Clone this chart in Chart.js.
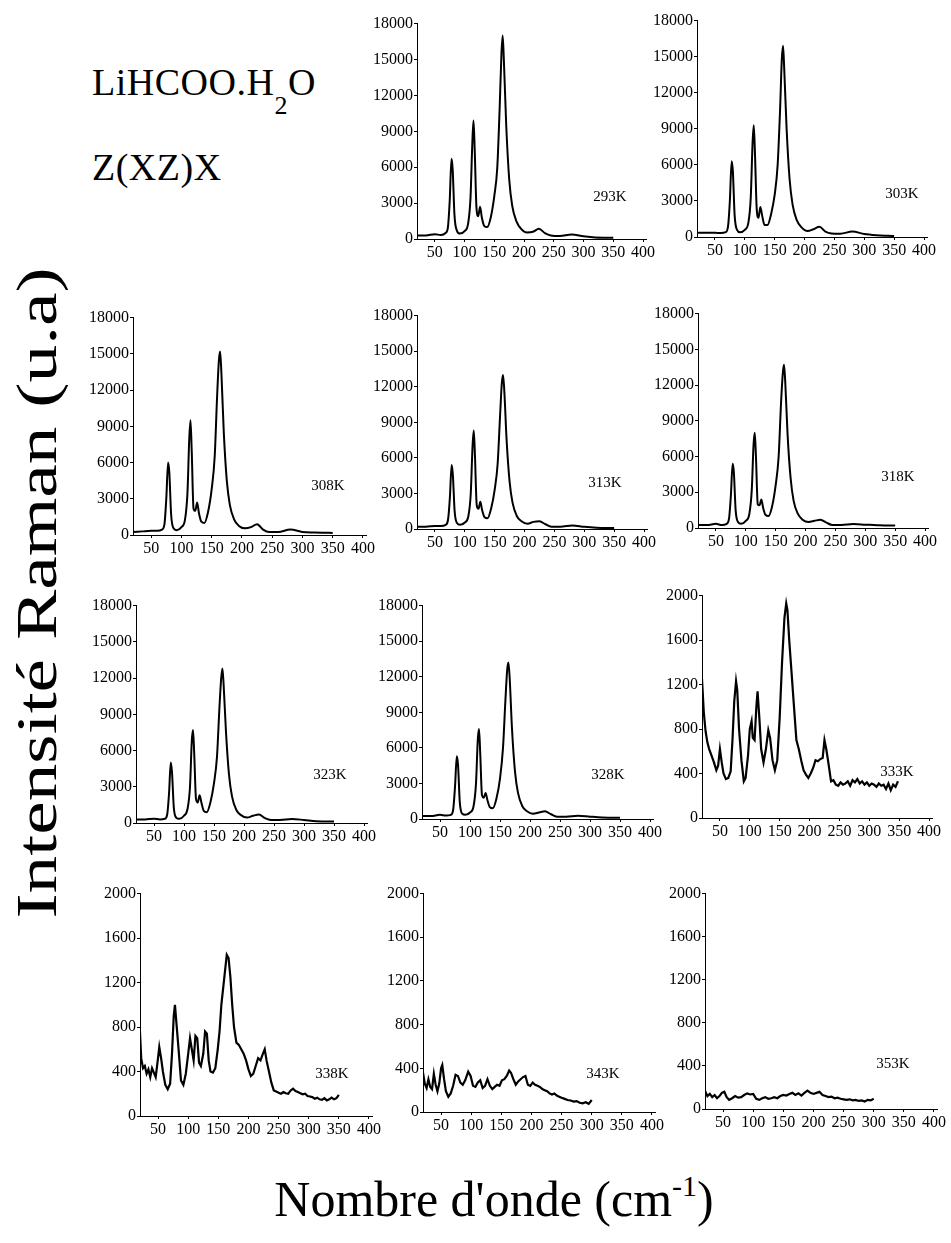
<!DOCTYPE html>
<html>
<head>
<meta charset="utf-8">
<title>LiHCOO.H2O Raman</title>
<script src="https://cdn.jsdelivr.net/npm/chart.js@4.4.1/dist/chart.umd.min.js"></script>
<style>
  body { margin: 0; background: #fff; }
  #page {
    position: relative; width: 951px; height: 1243px; overflow: hidden;
    font-family: "Liberation Serif", "DejaVu Serif", serif; color: #000;
  }
  .panel { position: absolute; }
  .temp { position: absolute; font-size: 15px; transform: translate(-50%, -50%); white-space: nowrap; }
  .big { position: absolute; font-size: 38px; white-space: nowrap; letter-spacing: 0.5px; line-height: 1; }
  .big sub { font-size: 26px; position: relative; top: 19px; vertical-align: baseline; }
  #ytitle {
    position: absolute; left: 37px; top: 593px; font-size: 58px; white-space: nowrap; line-height: 1;
    transform: translate(-50%, -50%) rotate(-90deg) scaleX(1.3);
  }
  #xtitle { position: absolute; left: 494px; top: 1174px; font-size: 50px; white-space: nowrap; line-height: 1; transform: translateX(-50%); }
  #xtitle sup { font-size: 30px; position: relative; top: -20px; vertical-align: baseline; }
</style>
</head>
<body>
<div id="page">
  <div class="big" style="left:92px; top:63px;">LiHCOO.H<sub>2</sub>O</div>
  <div class="big" style="left:92px; top:148px;">Z(XZ)X</div>
  <div id="ytitle">Intensité Raman (u.a)</div>
  <div id="xtitle">Nombre d'onde (cm<sup>-1</sup>)</div>
</div>
<script>
// tick labels
const xTicks = [50, 100, 150, 200, 250, 300, 350, 400];
const yTicksHigh = [0, 3000, 6000, 9000, 12000, 15000, 18000];
const yTicksLow = [0, 400, 800, 1200, 1600, 2000];

// shared wavenumber grid for the crystalline spectra (293K - 328K)
const wavenumbers = [20, 35, 50, 60, 68, 72, 75, 78, 80, 83, 87, 92, 100, 106, 110, 113, 115, 117, 120, 123,
  126, 129, 133, 138, 144, 150, 155, 159, 162, 164, 166, 170, 175, 180, 187, 195, 205, 215, 225, 235,
  245, 260, 280, 300, 320, 340, 350];

const i293 = [300, 300, 400, 330, 500, 1000, 3200, 6700, 5800, 2000, 700, 450, 650, 1300, 3500, 8000, 9900, 7500, 2600, 1900,
  2700, 1800, 1100, 1000, 1800, 3600, 6000, 11000, 15500, 17000, 15000, 9500, 5000, 2800, 1500, 850, 550, 600, 850, 500,
  300, 250, 380, 230, 130, 110, 100];
const i303 = [350, 350, 350, 330, 400, 900, 3000, 6300, 5500, 1800, 600, 400, 600, 1200, 3300, 7800, 9300, 7000, 2300, 1600,
  2500, 1800, 1000, 1000, 1900, 3500, 6000, 10500, 14800, 15900, 14000, 9000, 4800, 2700, 1400, 800, 500, 650, 850, 450,
  300, 280, 450, 250, 150, 100, 80];
const i308 = [250, 300, 350, 350, 450, 900, 3000, 6000, 5200, 1700, 550, 400, 650, 1300, 3500, 8000, 9500, 7000, 2200, 2000,
  2700, 1800, 1100, 1000, 1900, 3800, 6500, 11500, 14500, 15200, 13500, 8500, 4500, 2500, 1300, 750, 550, 650, 900, 450,
  250, 250, 450, 250, 200, 180, 170];
const i313 = [200, 200, 250, 250, 350, 800, 2600, 5400, 4600, 1500, 500, 350, 550, 1100, 3000, 7000, 8300, 6200, 2000, 1700,
  2300, 1600, 1000, 900, 1700, 3300, 5500, 9500, 12300, 13000, 11800, 7500, 4000, 2200, 1100, 650, 450, 600, 650, 400,
  200, 200, 300, 180, 100, 80, 80];
const i318 = [250, 250, 350, 250, 350, 800, 2700, 5400, 4700, 1500, 500, 350, 600, 1200, 3200, 7000, 8000, 6000, 2000, 1900,
  2400, 1700, 1100, 1000, 1800, 3600, 6000, 10500, 13000, 13700, 12300, 7800, 4200, 2300, 1200, 700, 500, 600, 700, 450,
  250, 250, 330, 280, 230, 200, 200];
const i323 = [300, 300, 350, 300, 350, 700, 2400, 5000, 4200, 1300, 450, 350, 600, 1200, 3000, 6800, 7700, 5800, 2000, 1700,
  2300, 1700, 1000, 900, 1700, 3300, 5500, 9500, 12000, 12800, 11500, 7500, 4000, 2200, 1100, 650, 450, 600, 700, 400,
  250, 250, 330, 250, 150, 120, 120];
const i328 = [250, 250, 350, 300, 350, 800, 2700, 5300, 4600, 1400, 450, 350, 550, 1100, 3000, 6700, 7600, 5600, 2000, 1800,
  2200, 1600, 1000, 900, 1700, 3400, 6000, 10000, 12600, 13200, 12000, 7600, 4000, 2200, 1100, 650, 450, 550, 650, 400,
  200, 200, 280, 200, 130, 100, 100];

// noisier high-temperature spectra, each on its own grid
const wn333 = [20, 23, 26, 29, 32, 36, 40, 44, 47, 50, 53, 56, 60, 64, 68, 71, 74, 77, 79, 82,
  86, 90, 93, 97, 100, 103, 105, 108, 111, 113, 116, 119, 123, 127, 131, 134, 138, 142, 146, 150,
  154, 158, 161, 163, 166, 170, 174, 178, 182, 186, 190, 194, 198, 202, 206, 210, 214, 218, 222, 225,
  228, 232, 236, 240, 244, 248, 252, 256, 260, 264, 268, 272, 276, 280, 284, 288, 292, 296, 300, 304,
  308, 312, 316, 320, 324, 328, 332, 336, 340, 344, 348];
const i333 = [1250, 950, 780, 680, 620, 560, 500, 430, 470, 620, 500, 400, 350, 360, 420, 700, 1050, 1230, 1150, 800,
  520, 330, 360, 560, 800, 870, 720, 700, 1000, 1140, 900, 620, 500, 620, 790, 720, 520, 430, 520, 900,
  1400, 1800, 1930, 1870, 1600, 1300, 1000, 700, 620, 520, 430, 390, 360, 400, 450, 520, 510, 530, 540, 700,
  620, 480, 330, 340, 300, 290, 320, 300, 310, 330, 290, 340, 320, 350, 310, 330, 300, 320, 290, 310,
  300, 280, 310, 290, 300, 260, 310, 250, 300, 280, 330];

const wn338 = [20, 22, 25, 28, 31, 34, 37, 40, 43, 46, 49, 52, 55, 58, 62, 66, 70, 73, 76, 78,
  81, 84, 88, 92, 96, 100, 103, 106, 109, 112, 115, 118, 121, 125, 128, 131, 134, 137, 141, 145,
  149, 152, 155, 158, 161, 164, 167, 170, 173, 176, 180, 184, 188, 192, 196, 200, 204, 208, 212, 216,
  220, 224, 227, 230, 234, 238, 242, 246, 250, 254, 258, 262, 266, 270, 274, 278, 282, 286, 290, 294,
  298, 302, 306, 310, 314, 318, 322, 326, 330, 334, 338, 342, 346, 350];
const i338 = [750, 520, 430, 450, 380, 420, 350, 430, 390, 350, 480, 620, 520, 400, 280, 240, 290, 550, 900, 1000,
  800, 600, 320, 280, 380, 560, 700, 600, 500, 720, 700, 480, 450, 560, 760, 740, 500, 400, 390, 430,
  600, 760, 1000, 1150, 1300, 1450, 1420, 1250, 1000, 800, 660, 640, 600, 560, 500, 420, 360, 380, 450, 520,
  500, 560, 600, 500, 400, 300, 230, 220, 210, 200, 215, 205, 200, 230, 245, 225, 215, 205, 195, 200,
  180, 175, 170, 155, 165, 150, 145, 160, 140, 150, 165, 150, 160, 190];

const wn343 = [20, 23, 26, 29, 32, 35, 38, 41, 44, 47, 50, 52, 55, 58, 62, 66, 70, 74, 78, 82,
  86, 90, 95, 99, 103, 107, 111, 115, 119, 123, 127, 131, 135, 139, 143, 147, 151, 155, 159, 163,
  166, 170, 174, 178, 182, 186, 190, 194, 198, 202, 206, 210, 214, 218, 222, 226, 230, 234, 238, 242,
  246, 250, 255, 260, 265, 270, 275, 280, 285, 290, 295, 300];
const i343 = [360, 260, 220, 300, 230, 210, 350, 250, 190, 260, 400, 430, 300, 190, 140, 170, 240, 340, 330, 270,
  250, 290, 370, 330, 240, 230, 270, 290, 220, 240, 300, 240, 210, 230, 250, 240, 290, 300, 330, 380,
  360, 300, 250, 280, 300, 320, 330, 250, 240, 270, 250, 240, 230, 210, 200, 190, 170, 160, 170, 150,
  140, 130, 120, 110, 105, 95, 100, 85, 80, 90, 75, 110];

const wn353 = [20, 24, 28, 32, 36, 40, 44, 48, 52, 56, 60, 65, 70, 75, 80, 85, 90, 95, 100, 105,
  110, 115, 120, 125, 130, 135, 140, 145, 150, 155, 160, 165, 170, 175, 180, 185, 190, 195, 200, 205,
  210, 215, 220, 225, 230, 235, 240, 245, 250, 255, 260, 265, 270, 275, 280, 285, 290, 295, 300];
const i353 = [170, 120, 140, 110, 130, 100, 120, 150, 160, 110, 85, 100, 120, 105, 110, 130, 145, 135, 140, 95,
  85, 100, 110, 95, 100, 110, 100, 120, 130, 125, 140, 150, 130, 145, 125, 150, 170, 150, 140, 150,
  160, 130, 120, 110, 115, 100, 105, 95, 90, 85, 90, 80, 85, 75, 80, 70, 85, 80, 95];

// plot-area boxes on the page: [left, top, right, bottom], and label centres
const panels = [
  { label: '293K', xs: wavenumbers, ys: i293, yTicks: yTicksHigh, box: [417, 23, 646, 239], tag: [610, 196], smooth: true },
  { label: '303K', xs: wavenumbers, ys: i303, yTicks: yTicksHigh, box: [697, 20, 927, 237], tag: [902, 193], smooth: true },
  { label: '308K', xs: wavenumbers, ys: i308, yTicks: yTicksHigh, box: [133, 317, 366, 535], tag: [328, 485], smooth: true },
  { label: '313K', xs: wavenumbers, ys: i313, yTicks: yTicksHigh, box: [417, 315, 647, 529], tag: [605, 482], smooth: true },
  { label: '318K', xs: wavenumbers, ys: i318, yTicks: yTicksHigh, box: [698, 313, 928, 528], tag: [898, 476], smooth: true },
  { label: '323K', xs: wavenumbers, ys: i323, yTicks: yTicksHigh, box: [136, 605, 367, 823], tag: [330, 774], smooth: true },
  { label: '328K', xs: wavenumbers, ys: i328, yTicks: yTicksHigh, box: [422, 605, 653, 819], tag: [608, 774], smooth: true },
  { label: '333K', xs: wn333, ys: i333, yTicks: yTicksLow, box: [702, 595, 932, 818], tag: [897, 771], smooth: false },
  { label: '338K', xs: wn338, ys: i338, yTicks: yTicksLow, box: [140, 893, 372, 1116], tag: [332, 1073], smooth: false },
  { label: '343K', xs: wn343, ys: i343, yTicks: yTicksLow, box: [423, 893, 655, 1112], tag: [603, 1073], smooth: false },
  { label: '353K', xs: wn353, ys: i353, yTicks: yTicksLow, box: [705, 893, 937, 1109], tag: [893, 1063], smooth: false }
];

const AXIS_W = 62;   // room for y tick labels
const AXIS_H = 28;   // room for x tick labels
const PAD_T = 10;
const PAD_R = 14;
const yFont = { family: '"Liberation Serif", serif', size: 16 };
const xFont = { family: '"Liberation Serif", serif', size: 16 };

const page = document.getElementById('page');

function buildPanel(p) {
  const [L, T, R, B] = p.box;
  const w = R - L + AXIS_W + PAD_R;
  const h = B - T + PAD_T + AXIS_H;

  const wrap = document.createElement('div');
  wrap.className = 'panel';
  wrap.style.left = (L - AXIS_W) + 'px';
  wrap.style.top = (T - PAD_T) + 'px';
  wrap.style.width = w + 'px';
  wrap.style.height = h + 'px';
  const canvas = document.createElement('canvas');
  canvas.width = w;
  canvas.height = h;
  canvas.style.width = w + 'px';
  canvas.style.height = h + 'px';
  wrap.appendChild(canvas);
  page.appendChild(wrap);

  const tag = document.createElement('div');
  tag.className = 'temp';
  tag.style.left = p.tag[0] + 'px';
  tag.style.top = p.tag[1] + 'px';
  tag.textContent = p.label;
  page.appendChild(tag);

  const yMax = p.yTicks[p.yTicks.length - 1];

  new Chart(canvas, {
    type: 'line',
    data: {
      datasets: [{
        data: p.xs.map((x, i) => ({ x: x, y: p.ys[i] })),
        borderColor: '#000',
        borderWidth: p.smooth ? 2 : 2.2,
        pointRadius: 0,
        fill: false,
        tension: 0,
        cubicInterpolationMode: p.smooth ? 'monotone' : 'default'
      }]
    },
    options: {
      responsive: false,
      animation: false,
      events: [],
      layout: { padding: { left: 0, right: PAD_R, top: PAD_T, bottom: 0 } },
      plugins: { legend: { display: false }, tooltip: { enabled: false } },
      scales: {
        x: {
          type: 'linear',
          min: 20,
          max: 405,
          afterFit: (s) => { s.height = AXIS_H; },
          afterBuildTicks: (s) => { s.ticks = xTicks.map(v => ({ value: v })); },
          ticks: { autoSkip: false, maxRotation: 0, minRotation: 0, padding: 1, color: '#000', font: xFont,
            callback: (v) => String(v) },
          grid: { drawOnChartArea: false, tickLength: 3, color: '#000' },
          border: { color: '#000', width: 1 }
        },
        y: {
          type: 'linear',
          min: 0,
          max: yMax,
          afterFit: (s) => { s.width = AXIS_W; },
          afterBuildTicks: (s) => { s.ticks = p.yTicks.map(v => ({ value: v })); },
          ticks: { padding: 1, color: '#000', font: yFont, callback: (v) => String(v) },
          grid: { drawOnChartArea: false, tickLength: 3, color: '#000' },
          border: { color: '#000', width: 1 }
        }
      }
    }
  });
}

panels.forEach(buildPanel);
</script>
</body>
</html>
